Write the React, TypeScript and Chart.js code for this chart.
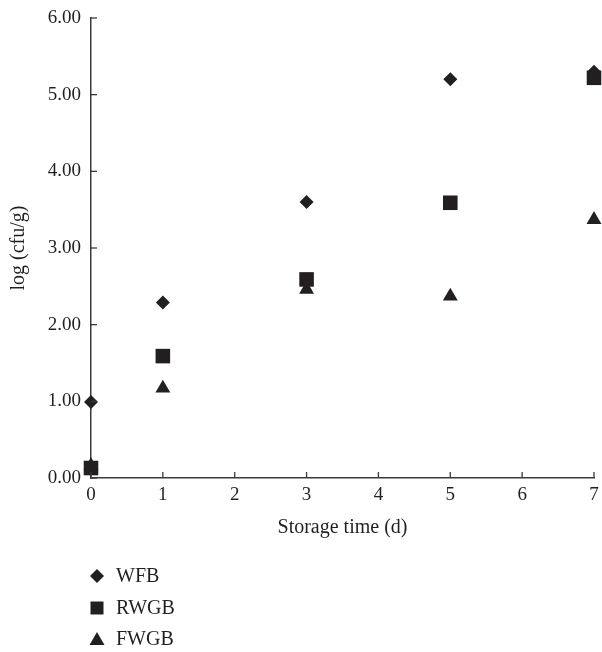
import React, { useEffect, useRef } from "react";
import { Chart, registerables } from "chart.js";

Chart.register(...registerables);

const days = [0, 1, 3, 5, 7];
const wfb = [0.99, 2.29, 3.6, 5.2, 5.3];
const rwgb = [0.13, 1.59, 2.59, 3.59, 5.22];
const fwgb = [0.16, 1.17, 2.46, 2.37, 3.37];
const seriesNames = ["WFB", "RWGB", "FWGB"];
const yTicks = [0, 1, 2, 3, 4, 5, 6];
const xTicks = [0, 1, 2, 3, 4, 5, 6, 7];

const INK = "#231f20";
const AXIS = "#3a3a3a";
const FONT = "'Liberation Serif', 'DejaVu Serif', serif";

function shape(ctx: CanvasRenderingContext2D, kind: string, x: number, y: number) {
  ctx.beginPath();
  if (kind === "diamond") {
    const r = 7;
    ctx.moveTo(x, y - r);
    ctx.lineTo(x + r, y);
    ctx.lineTo(x, y + r);
    ctx.lineTo(x - r, y);
  } else if (kind === "square") {
    const h = 6.5;
    ctx.rect(x - h, y - h, 2 * h, 2 * h);
  } else {
    const w = 7.5;
    ctx.moveTo(x, y - 7);
    ctx.lineTo(x + w, y + 6);
    ctx.lineTo(x - w, y + 6);
  }
  ctx.closePath();
  ctx.fill();
}

const decorPlugin = {
  id: "decor",
  afterDraw(chart: any) {
    const ctx = chart.ctx as CanvasRenderingContext2D;
    const x = chart.scales.x;
    const y = chart.scales.y;
    const area = chart.chartArea;
    ctx.save();
    ctx.strokeStyle = AXIS;
    ctx.lineWidth = 1.3;
    y.ticks.forEach((t: any) => {
      const py = y.getPixelForValue(t.value);
      ctx.beginPath();
      ctx.moveTo(area.left, py);
      ctx.lineTo(area.left + 6, py);
      ctx.stroke();
    });
    x.ticks.forEach((t: any) => {
      const px = x.getPixelForValue(t.value);
      ctx.beginPath();
      ctx.moveTo(px, area.bottom);
      ctx.lineTo(px, area.bottom - 6);
      ctx.stroke();
    });
    const kinds = ["diamond", "square", "triangle"];
    const ys = [576, 608, 639];
    ctx.fillStyle = INK;
    ctx.font = "20px " + FONT;
    ctx.textBaseline = "middle";
    ctx.textAlign = "left";
    seriesNames.forEach((name, i) => {
      shape(ctx, kinds[i], 97, ys[i]);
      ctx.fillText(name, 116, ys[i] + 1);
    });
    ctx.restore();
  },
};

const zeroPad = () => ({ left: 0, right: 0, top: 0, bottom: 0 });

export default function App() {
  const ref = useRef<HTMLCanvasElement | null>(null);
  useEffect(() => {
    document.body.style.margin = "0";
    const canvas = ref.current;
    if (!canvas) return;
    const mk = (label: string, data: number[], style: string, radius: number, order: number) => ({
      label,
      data: days.map((d, i) => ({ x: d, y: data[i] })),
      pointStyle: style,
      pointRadius: radius,
      pointHoverRadius: radius,
      backgroundColor: INK,
      borderColor: INK,
      borderWidth: 0,
      showLine: false,
      clip: false as any,
      order,
    });
    const chart = new Chart(canvas, {
      type: "scatter",
      data: {
        datasets: [
          mk(seriesNames[0], wfb, "rectRot", 7, 2),
          mk(seriesNames[1], rwgb, "rect", 10.3, 0),
          mk(seriesNames[2], fwgb, "triangle", 8.6, 1),
        ],
      },
      plugins: [decorPlugin],
      options: {
        animation: false,
        responsive: false,
        devicePixelRatio: 1,
        layout: { autoPadding: false, padding: { left: 0, right: 8, top: 18, bottom: 110 } },
        plugins: { legend: { display: false }, tooltip: { enabled: false } },
        scales: {
          x: {
            type: "linear",
            min: 0,
            max: 7,
            afterFit: (s: any) => {
              s.height = 64;
              s.paddingLeft = 0;
              s.paddingRight = 0;
              s.getPadding = zeroPad;
            },
            afterBuildTicks: (s: any) => {
              s.ticks = xTicks.map((v) => ({ value: v }));
            },
            ticks: {
              color: INK,
              font: { family: FONT, size: 19 },
              padding: 6,
              maxRotation: 0,
              callback: (v: any) => String(v),
            },
            grid: { display: true, drawOnChartArea: false, drawTicks: false, color: "transparent" },
            border: { display: true, color: AXIS, width: 1.5 },
            title: {
              display: true,
              text: "Storage time (d)",
              color: INK,
              font: { family: FONT, size: 20 },
              padding: { top: 0, bottom: 2 },
            },
          },
          y: {
            type: "linear",
            min: 0,
            max: 6,
            afterFit: (s: any) => {
              s.width = 91;
              s.paddingTop = 0;
              s.paddingBottom = 0;
              s.getPadding = zeroPad;
            },
            afterBuildTicks: (s: any) => {
              s.ticks = yTicks.map((v) => ({ value: v }));
            },
            ticks: {
              color: INK,
              font: { family: FONT, size: 19 },
              padding: 10,
              callback: (v: any) => Number(v).toFixed(2),
            },
            grid: { display: true, drawOnChartArea: false, drawTicks: false, color: "transparent" },
            border: { display: true, color: AXIS, width: 1.5 },
            title: {
              display: true,
              text: "log (cfu/g)",
              color: INK,
              font: { family: FONT, size: 20 },
              padding: { top: 7, bottom: 0 },
            },
          },
        },
      },
    });
    return () => chart.destroy();
  }, []);
  return <canvas ref={ref} width={602} height={652} style={{ display: "block" }} />;
}
